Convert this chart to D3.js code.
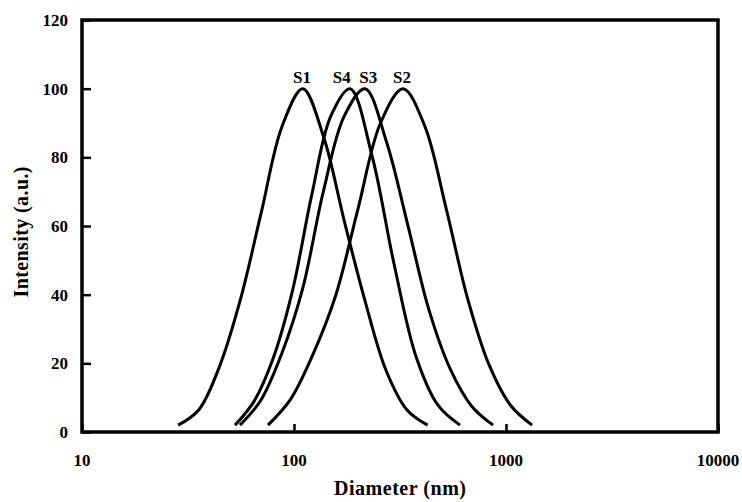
<!DOCTYPE html>
<html>
<head>
<meta charset="utf-8">
<script src="https://cdn.jsdelivr.net/npm/d3@7"></script>
<style>
  body { margin: 0; background: #fff; }
  text { font-family: "Liberation Serif", "Times New Roman", serif; font-weight: bold; fill: #000; }
</style>
</head>
<body>
<div id="chart"></div>
<script>
// diameter (nm) / intensity (a.u.)
const s1Diam = [28.4, 35.6, 44.6, 55.9, 70.0, 87.8, 110, 137.9, 172.9, 216.7, 271.6, 340.5, 426.8];
const s1Int  = [2, 6.5, 19.2, 38.6, 63.8, 89, 100, 86, 61.3, 38, 18, 6.5, 2];

const s4Diam = [52.7, 64.9, 79.9, 98.4, 121.2, 149.1, 183.7, 233.3, 296.3, 376.3, 477.7, 606.7];
const s4Int  = [2, 9, 21.6, 41.2, 69, 92, 100, 80.5, 49, 22, 7.8, 2];

const s3Diam = [55.6, 69.7, 87.5, 109.7, 137.5, 172.5, 216.2, 272.5, 343.8, 433.4, 546.2, 688.9, 868.5];
const s3Int  = [2, 9.2, 22.8, 41.6, 70, 92, 100, 84.7, 60.4, 35.5, 18.3, 7.5, 2];

const s2Diam = [75.4, 96.3, 122.9, 157.0, 200.4, 255.9, 326.8, 412.7, 521.2, 658.2, 831.5, 1050, 1327];
const s2Int  = [2, 9.5, 22.6, 39.6, 65, 90, 100, 89.3, 65.3, 39, 19.6, 7.8, 2];

const seriesNames = ['S1', 'S4', 'S3', 'S2'];
const labelDiam = [109, 168, 224, 323];

const xTicks = [10, 100, 1000, 10000];
const yTicks = [0, 20, 40, 60, 80, 100, 120];

const series = [
  {name: 'S1', x: s1Diam, y: s1Int},
  {name: 'S4', x: s4Diam, y: s4Int},
  {name: 'S3', x: s3Diam, y: s3Int},
  {name: 'S2', x: s2Diam, y: s2Int}
];

const width = 742, height = 502;
const margin = {top: 20, right: 24, bottom: 70, left: 82};
const w = width - margin.left - margin.right;
const h = height - margin.top - margin.bottom;

const svg = d3.select('#chart').append('svg')
  .attr('width', width)
  .attr('height', height);

const chart = svg.append('g')
  .attr('transform', `translate(${margin.left},${margin.top})`);

const x = d3.scaleLog().domain([10, 10000]).range([0, w]);
const y = d3.scaleLinear().domain([0, 120]).range([h, 0]);

// smoothed lines like the spreadsheet original
const line = d3.line()
  .x(d => x(d[0]))
  .y(d => y(d[1]))
  .curve(d3.curveCatmullRom.alpha(0.5));

chart.selectAll('.curve')
  .data(series)
  .join('path')
  .attr('class', 'curve')
  .attr('d', s => line(s.x.map((v, i) => [v, s.y[i]])))
  .attr('fill', 'none')
  .attr('stroke', '#000')
  .attr('stroke-width', 3)
  .attr('stroke-linejoin', 'round');

// series labels above the peaks
chart.selectAll('.slabel')
  .data(seriesNames)
  .join('text')
  .attr('class', 'slabel')
  .attr('x', (d, i) => x(labelDiam[i]))
  .attr('y', y(100) - 6)
  .attr('text-anchor', 'middle')
  .style('font-size', '17px')
  .text(d => d);

// axes: ticks point inward, labels drawn separately
const xAxis = d3.axisBottom(x).tickValues(xTicks).tickSize(-8).tickFormat('');
const yAxis = d3.axisLeft(y).tickValues(yTicks).tickSize(-9).tickFormat('');

chart.append('g')
  .attr('transform', `translate(0,${h})`)
  .call(xAxis)
  .call(g => g.select('.domain').remove())
  .call(g => g.selectAll('line').attr('stroke-width', 2.5));

chart.append('g')
  .call(yAxis)
  .call(g => g.select('.domain').remove())
  .call(g => g.selectAll('line').attr('stroke-width', 2.5));

chart.selectAll('.xlab')
  .data(xTicks)
  .join('text')
  .attr('class', 'xlab')
  .attr('x', d => x(d))
  .attr('y', h + 34)
  .attr('text-anchor', 'middle')
  .style('font-size', '17px')
  .text(d => d);

chart.selectAll('.ylab')
  .data(yTicks)
  .join('text')
  .attr('class', 'ylab')
  .attr('x', -14)
  .attr('y', d => y(d) + 6)
  .attr('text-anchor', 'end')
  .style('font-size', '17px')
  .text(d => d);

// frame
chart.append('rect')
  .attr('width', w)
  .attr('height', h)
  .attr('fill', 'none')
  .attr('stroke', '#000')
  .attr('stroke-width', 3.5);

// axis titles
chart.append('text')
  .attr('x', w / 2)
  .attr('y', h + 63)
  .attr('text-anchor', 'middle')
  .attr('textLength', 132)
  .attr('lengthAdjust', 'spacing')
  .style('font-size', '20px')
  .text('Diameter (nm)');

chart.append('text')
  .attr('transform', `translate(${-margin.left + 28},${h / 2 + 6}) rotate(-90)`)
  .attr('text-anchor', 'middle')
  .attr('textLength', 131)
  .attr('lengthAdjust', 'spacing')
  .style('font-size', '20px')
  .text('Intensity (a.u.)');
</script>
</body>
</html>
